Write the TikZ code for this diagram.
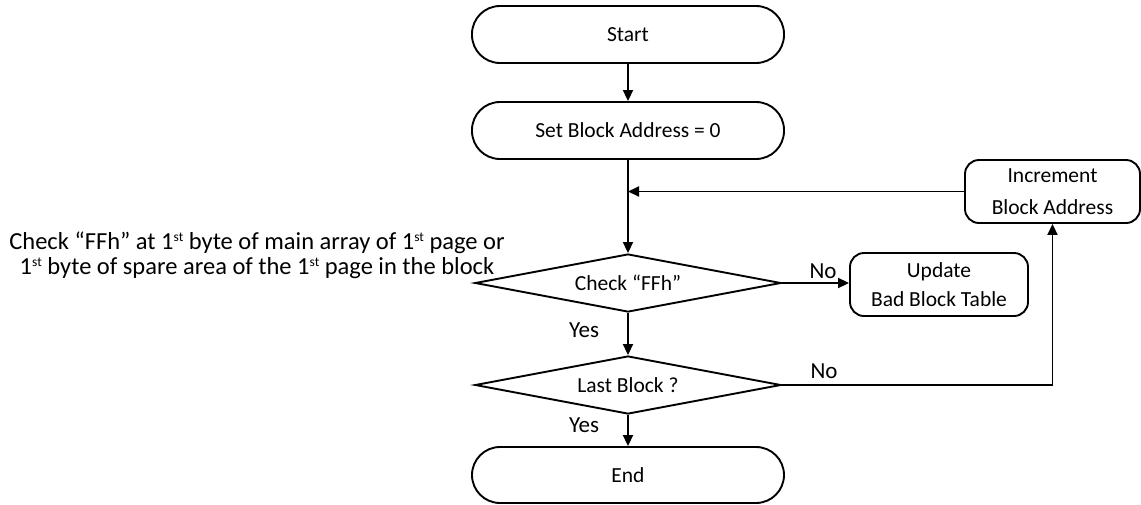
\documentclass[tikz,border=0pt]{standalone}
\usepackage{fontspec}
\setmainfont{Carlito}
\usetikzlibrary{shapes.geometric,arrows.meta}
\newcommand{\ordst}{\raisebox{8pt}{\fontsize{13.5}{13.5}\selectfont st}}
\begin{document}
\begin{tikzpicture}[x=1pt,y=-1pt,
  line width=1.9pt,
  every node/.style={font=\fontsize{21.5}{26}\selectfont},
  pill/.style={draw,rectangle,rounded corners=28pt,minimum width=312pt,minimum height=57pt,inner sep=0pt},
  proc/.style={draw,rectangle,rounded corners=14pt,align=center,inner sep=0pt},
  dec/.style={draw,diamond,aspect=5.3,minimum width=306pt,minimum height=58pt,inner sep=0pt},
  lbl/.style={inner sep=0pt,font=\fontsize{23}{26}\selectfont},
  note/.style={inner sep=0pt,font=\fontsize{24.5}{26}\selectfont},
  arr/.style={-{Triangle[length=11pt,width=10pt]}}]
\useasboundingbox (0,0) rectangle (1141,504);
\node[pill] (start) at (628,34.5) {Start};
\node[pill] (set) at (628,130.5) {Set Block Address = 0};
\node[proc,minimum width=175pt,minimum height=63pt] (incr) at (1052.5,191.5) {Increment\\[6pt]Block Address};
\node[dec] (d1) at (628,283) {Check “FFh”};
\node[proc,minimum width=178pt,minimum height=63pt] (upd) at (939,284.5) {Update\\[3pt]Bad Block Table};
\node[dec] (d2) at (628,385) {Last Block ?};
\node[pill,minimum height=56pt] (end) at (628,475) {End};
\node[note] (note1) at (257,243) {Check “FFh” at 1\ordst{} byte of main array of 1\ordst{} page or};
\node[note] (note2) at (257,268) {1\ordst{} byte of spare area of the 1\ordst{} page in the block};
\coordinate (join) at (set.south |- incr.west);
\draw[arr] (start) -- (set);
\draw[arr] (set) -- (d1);
\draw[arr] (incr.west) -- (join);
\draw[arr] (d1.east) -- (d1.east -| upd.west);
\node[lbl] (no1) at (823,271) {No};
\draw[arr] (d1) -- (d2);
\node[lbl] (yes1) at (584,330) {Yes};
\draw[arr] (d2.east) -| (incr.south);
\node[lbl] (no2) at (824,371) {No};
\draw[arr] (d2) -- (end);
\node[lbl] (yes2) at (584,425) {Yes};
\end{tikzpicture}
\end{document}
